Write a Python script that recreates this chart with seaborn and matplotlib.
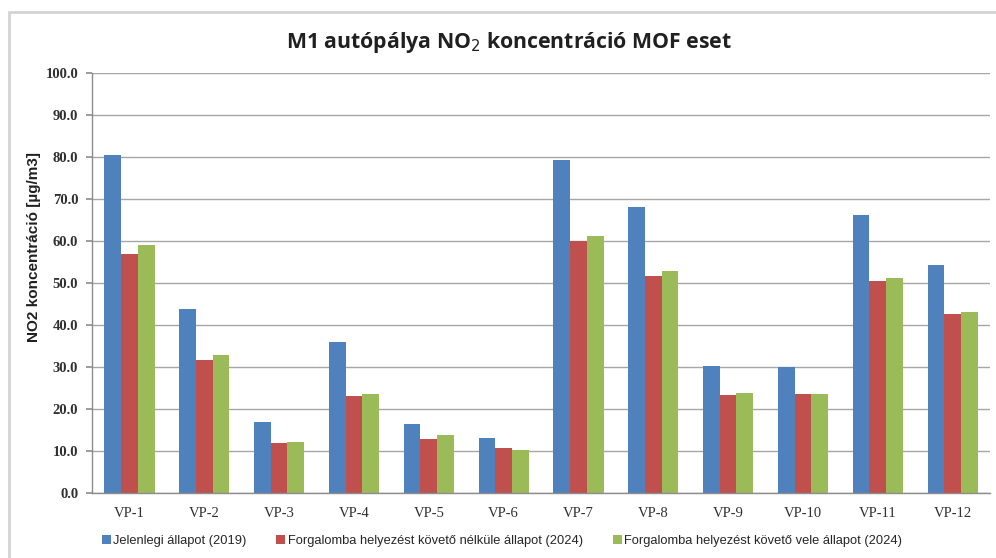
import matplotlib
matplotlib.use("Agg")
import matplotlib.pyplot as plt
from matplotlib.patches import Rectangle, Patch
import seaborn as sns
import pandas as pd

# Measurement points and NO2 concentrations (µg/m3)
points = ["VP-1", "VP-2", "VP-3", "VP-4", "VP-5", "VP-6",
          "VP-7", "VP-8", "VP-9", "VP-10", "VP-11", "VP-12"]
scenarios = ["Jelenlegi állapot (2019)",
             "Forgalomba helyezést követő nélküle állapot (2024)",
             "Forgalomba helyezést követő vele állapot (2024)"]
current_2019 = [80.4, 43.9, 16.9, 35.9, 16.5, 13.0, 79.2, 68.0, 30.3, 29.9, 66.2, 54.2]
without_2024 = [56.8, 31.6, 11.9, 23.0, 12.8, 10.6, 59.9, 51.6, 23.3, 23.6, 50.4, 42.7]
with_2024 = [59.1, 32.8, 12.2, 23.6, 13.7, 10.3, 61.2, 52.8, 23.7, 23.6, 51.3, 43.1]
y_ticks = [0, 10, 20, 30, 40, 50, 60, 70, 80, 90, 100]

colors = ["#4F81BD", "#C0504D", "#9BBB59"]

df = pd.DataFrame({
    "pont": points * 3,
    "ertek": current_2019 + without_2024 + with_2024,
    "allapot": [scenarios[0]] * len(points) + [scenarios[1]] * len(points)
               + [scenarios[2]] * len(points),
})

sns.set_theme(style="white")
plt.rcParams["font.family"] = ["Liberation Sans", "DejaVu Sans"]

fig = plt.figure(figsize=(9.96, 5.58), dpi=100)
ax = fig.add_axes([0.0924, 0.1165, 0.9016, 0.7525])

sns.barplot(data=df, x="pont", y="ertek", hue="allapot", order=points,
            hue_order=scenarios, palette=colors, width=0.67, gap=0,
            saturation=1, linewidth=0, legend=False, ax=ax)

ax.set_ylim(0, 100)
ax.set_xlim(-0.5, len(points) - 0.5)
ax.set_yticks(y_ticks)
ax.set_yticklabels([f"{v:.1f}" for v in y_ticks],
                   family=["Liberation Serif", "DejaVu Serif"],
                   fontweight="bold", fontsize=10.5, color="#303030")
ax.set_xticks(range(len(points)))
ax.set_xticklabels(points, family=["Liberation Serif", "DejaVu Serif"],
                   fontsize=10.5, color="#303030")
ax.yaxis.grid(True, color="#A6A6A6", linewidth=1.0)
ax.set_axisbelow(True)
ax.tick_params(axis="y", length=4, color="#909090", pad=6, left=True)
ax.tick_params(axis="x", length=0, pad=10)
for side in ("top", "right"):
    ax.spines[side].set_visible(False)
for side in ("left", "bottom"):
    ax.spines[side].set_color("#8C8C8C")
    ax.spines[side].set_linewidth(1.0)

ax.set_xlabel("")
ax.set_ylabel("NO2 koncentráció [µg/m3]", fontsize=11, fontweight="bold",
              color="#202020")
ax.yaxis.set_label_coords(-0.057, 0.586)

fig.text(0.511, 0.924, "M1 autópálya NO$_2$ koncentráció MOF eset",
         ha="center", va="center", fontsize=15.3, fontweight="bold",
         family=["Open Sans", "DejaVu Sans"], color="#202020")

handles = [Patch(facecolor=c, edgecolor="none") for c in colors]
fig.legend(handles, scenarios, loc="center", bbox_to_anchor=(0.504, 0.03),
           ncol=3, frameon=False, handlelength=0.7, handleheight=0.7,
           handletextpad=0.2, columnspacing=2.3,
           prop={"family": ["Liberation Sans", "DejaVu Sans"], "size": 9.3})

# Light frame around the chart area
fig.patches.append(Rectangle((9 / 996, -0.02), 1.2, (558 - 12) / 558 + 0.02,
                             transform=fig.transFigure, fill=False,
                             edgecolor="#D4D4D4", linewidth=2.0))

fig.savefig("out.png", dpi=100)
